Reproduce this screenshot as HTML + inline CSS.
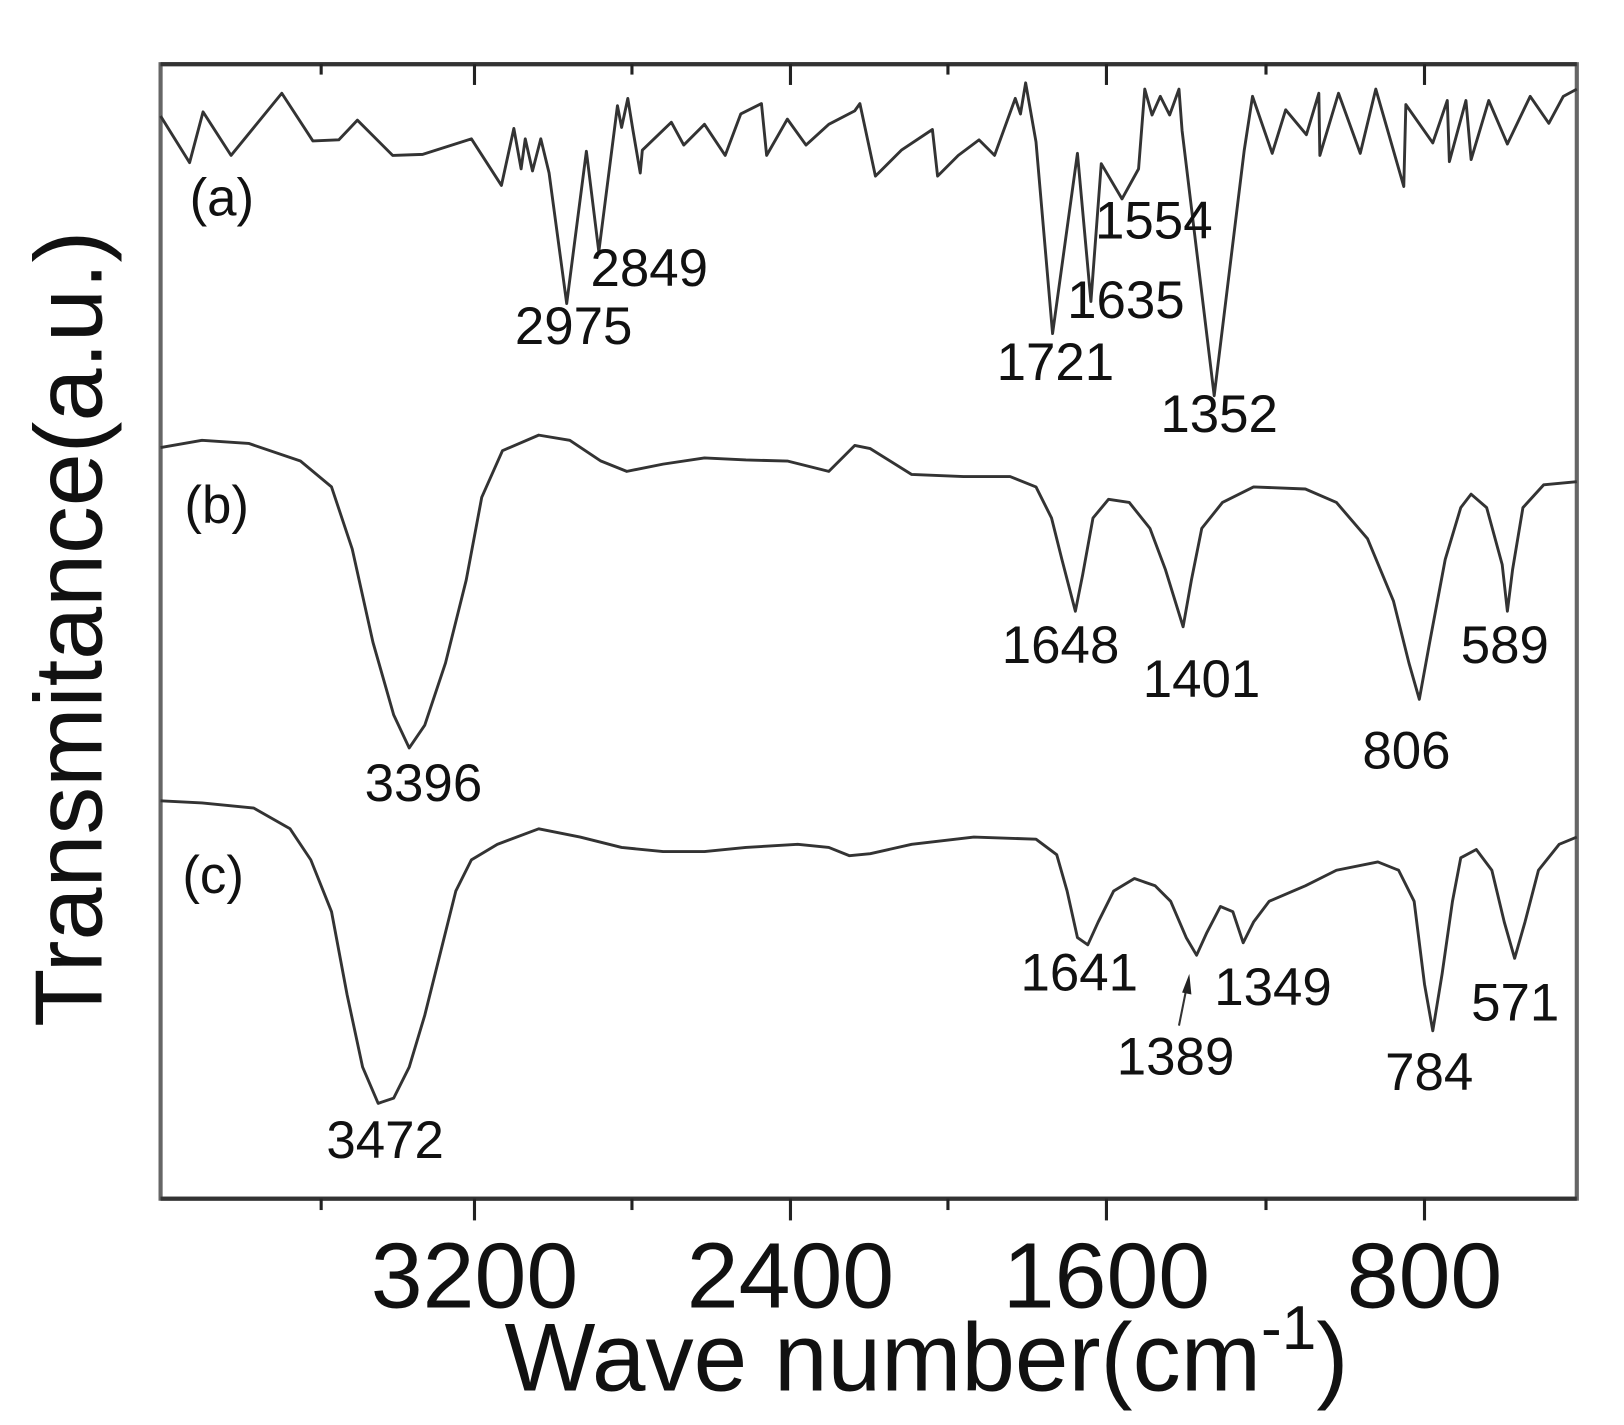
<!DOCTYPE html>
<html><head><meta charset="utf-8"><style>
html,body{margin:0;padding:0;background:#fff;}
svg{display:block;}
text{font-family:"Liberation Sans",Arial,sans-serif;fill:#111;}
</style></head><body>
<svg width="1624" height="1425" viewBox="0 0 1624 1425" xmlns="http://www.w3.org/2000/svg">
<g transform="scale(1.036,1.036)">
<rect x="155" y="62" width="1367" height="1095" fill="none" stroke="#666" stroke-width="4"/>
<line x1="155" y1="62" x2="1522" y2="62" stroke="#333" stroke-width="4"/>
<line x1="155" y1="1157" x2="1522" y2="1157" stroke="#333" stroke-width="4"/>
<g stroke="#222" stroke-width="3">
<line x1="458" y1="1157" x2="458" y2="1178"/><line x1="763" y1="1157" x2="763" y2="1178"/>
<line x1="1068" y1="1157" x2="1068" y2="1178"/><line x1="1375" y1="1157" x2="1375" y2="1178"/>
<line x1="310" y1="1157" x2="310" y2="1168"/><line x1="610" y1="1157" x2="610" y2="1168"/>
<line x1="915" y1="1157" x2="915" y2="1168"/><line x1="1222" y1="1157" x2="1222" y2="1168"/>
<line x1="458" y1="62" x2="458" y2="82"/><line x1="763" y1="62" x2="763" y2="82"/>
<line x1="1068" y1="62" x2="1068" y2="82"/><line x1="1375" y1="62" x2="1375" y2="82"/>
<line x1="310" y1="62" x2="310" y2="72"/><line x1="610" y1="62" x2="610" y2="72"/>
<line x1="915" y1="62" x2="915" y2="72"/><line x1="1222" y1="62" x2="1222" y2="72"/>
</g>
<g font-size="90" text-anchor="middle">
<text x="458" y="1262">3200</text><text x="763" y="1262">2400</text>
<text x="1068" y="1262">1600</text><text x="1375" y="1262">800</text>
</g>
<text x="487" y="1342" font-size="93">Wave number(cm<tspan font-size="60" dy="-40">-1</tspan><tspan dy="40">)</tspan></text>
<text transform="translate(98,607) rotate(-90)" font-size="92" text-anchor="middle">Transmitance(a.u.)</text>
<g fill="none" stroke="#333" stroke-width="2.8" stroke-linejoin="round">
<polyline points="155,112 183,157 196,108 223,150 272,90 302,136 327,135 345,116 379,150 408,149 455,134 484,179 496,124 503,163 507,134 514,165 522,134 530,167 547,293 566,146 578,243 596,102 600,123 606,95 611,126 618,167 620,145 648,118 660,140 680,120 700,150 715,110 735,100 740,150 760,115 778,140 800,120 825,107 830,100 845,170 870,145 900,125 905,170 925,150 945,135 960,150 980,95 985,110 990,80 1000,137 1016,322 1040,148 1053,291 1063,158 1083,192 1099,163 1105,86 1112,111 1120,93 1129,111 1138,86 1141,126 1172,382 1201,145 1209,93 1228,148 1241,106 1261,130 1273,90 1274,150 1292,90 1313,148 1328,86 1355,180 1357,101 1383,138 1397,97 1399,156 1415,97 1420,154 1437,97 1455,139 1477,93 1495,119 1509,93 1522,86"/>
<polyline points="155,432 195,425 240,428 290,445 320,470 340,530 360,620 380,690 395,722 410,700 430,640 450,560 465,480 485,435 520,420 550,425 580,445 605,455 640,448 680,442 720,444 760,445 800,455 815,440 825,430 840,433 880,458 930,460 975,460 1000,470 1015,500 1025,540 1038,590 1045,555 1055,500 1070,482 1090,485 1110,510 1125,550 1142,605 1150,560 1160,510 1180,485 1210,470 1260,472 1290,485 1320,520 1345,580 1360,640 1370,675 1380,620 1395,540 1410,490 1420,477 1435,490 1450,545 1455,590 1460,550 1470,490 1490,468 1522,465"/>
<polyline points="155,773 195,775 245,780 280,800 300,830 320,880 335,960 350,1030 365,1065 380,1060 395,1030 410,980 425,920 440,860 455,830 480,815 520,800 560,808 600,818 640,822 680,822 720,818 770,815 800,818 820,826 840,824 880,815 940,808 1000,810 1020,825 1030,860 1040,905 1050,912 1060,890 1075,860 1095,848 1115,855 1130,870 1145,905 1155,922 1165,900 1178,875 1190,880 1200,910 1210,890 1225,870 1260,855 1290,840 1330,832 1350,840 1365,870 1375,950 1383,995 1392,940 1402,870 1410,828 1425,820 1440,840 1452,890 1462,925 1472,890 1485,840 1505,815 1522,808"/>
<line x1="1138" y1="990" x2="1146" y2="950" stroke-width="2"/>
</g>
<polygon points="1148,940 1150,960 1141,958" fill="#222"/>
<g font-size="51">
<text x="183" y="208">(a)</text><text x="178" y="505">(b)</text><text x="176" y="862">(c)</text>
<text x="570" y="276">2849</text><text x="497" y="332">2975</text>
<text x="1057" y="230">1554</text><text x="1030" y="307">1635</text>
<text x="962" y="367">1721</text><text x="1120" y="417">1352</text>
<text x="967" y="640">1648</text><text x="1103" y="673">1401</text>
<text x="1315" y="742">806</text><text x="1410" y="640">589</text>
<text x="352" y="773">3396</text>
<text x="985" y="956">1641</text><text x="1172" y="970">1349</text>
<text x="1078" y="1037">1389</text><text x="1337" y="1052">784</text>
<text x="1420" y="985">571</text><text x="315" y="1118">3472</text>
</g>
</g>
</svg>
</body></html>
